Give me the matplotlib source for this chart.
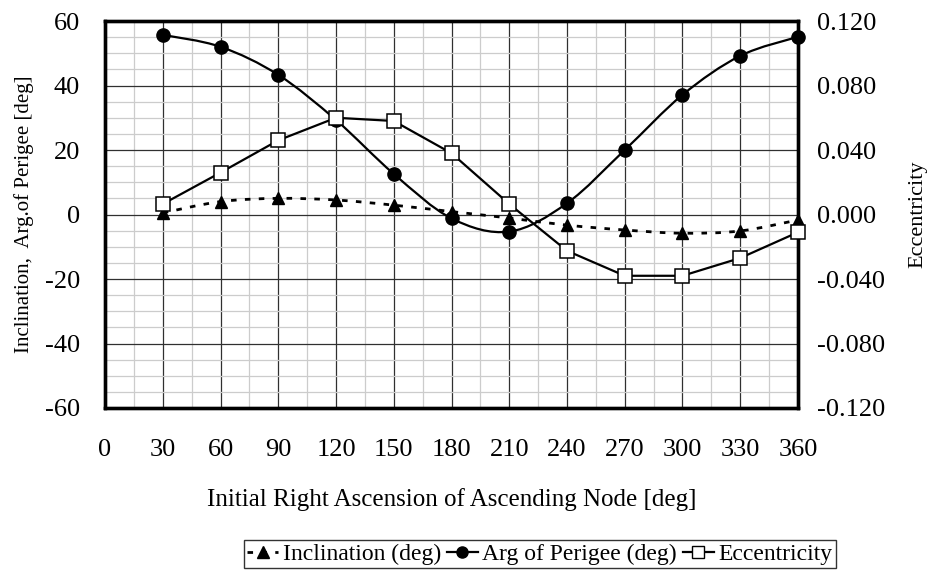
import numpy as np
import matplotlib.pyplot as plt
from matplotlib.path import Path
from matplotlib.patches import PathPatch
from matplotlib.lines import Line2D
from matplotlib.ticker import MultipleLocator, FormatStrFormatter

plt.rcParams['font.family'] = ['Liberation Serif', 'DejaVu Serif']
plt.rcParams['axes.unicode_minus'] = False

raan = [30, 60, 90, 120, 150, 180, 210, 240, 270, 300, 330, 360]
inclination = [0.5, 4.0, 5.0, 4.5, 2.9, 0.9, -1.1, -3.3, -4.8, -5.8, -5.1, -1.7]
arg_perigee = [55.7, 52.0, 43.3, 29.3, 12.6, -1.2, -5.3, 3.5, 20.0, 37.1, 49.2, 55.1]
eccentricity = [0.0065, 0.026, 0.046, 0.060, 0.058, 0.038, 0.0065, -0.0225,
                -0.038, -0.038, -0.027, -0.011]


def smooth_path(x, y):
    # bezier through every point, like a spreadsheet "smoothed line"
    p = np.column_stack([x, y]).astype(float)
    verts = [p[0]]
    codes = [Path.MOVETO]
    n = len(p)
    for i in range(n - 1):
        p0 = p[i - 1] if i > 0 else p[i]
        p3 = p[i + 2] if i + 2 < n else p[i + 1]
        c1 = p[i] + (p[i + 1] - p0) / 6
        c2 = p[i + 1] - (p3 - p[i]) / 6
        verts += [c1, c2, p[i + 1]]
        codes += [Path.CURVE4] * 3
    return Path(verts, codes)


fig = plt.figure(figsize=(9.32, 5.74), dpi=100)
ax = fig.add_axes([0.1127, 0.2892, 0.7435, 0.6742])
ax2 = ax.twinx()

ax.set_xlim(0, 360)
ax.set_ylim(-60, 60)
ax2.set_ylim(-0.12, 0.12)

ax.xaxis.set_major_locator(MultipleLocator(30))
ax.xaxis.set_minor_locator(MultipleLocator(15))
ax.yaxis.set_major_locator(MultipleLocator(20))
ax.yaxis.set_minor_locator(MultipleLocator(5))
ax2.yaxis.set_major_locator(MultipleLocator(0.04))
ax2.yaxis.set_major_formatter(FormatStrFormatter('%.3f'))

ax.grid(which='minor', color='#cccccc', lw=0.9)
ax.grid(which='major', color='#303030', lw=0.9)
ax.set_axisbelow(True)

for a in (ax, ax2):
    for s in a.spines.values():
        s.set_linewidth(2.4)
    a.tick_params(which='both', length=0, labelsize=19)
ax.tick_params(axis='x', pad=22)
ax.tick_params(axis='y', pad=18)
ax2.tick_params(axis='y', pad=14)

# inclination: dashed smoothed line with triangles
ax.add_patch(PathPatch(smooth_path(raan, inclination), fill=False, lw=2,
                       ls=(0, (2, 3)), color='black', zorder=3))
ax.plot(raan, inclination, ls='none', marker='^', ms=9, color='black',
        zorder=4, clip_on=False)

# argument of perigee: smoothed solid line with filled circles
ax.add_patch(PathPatch(smooth_path(raan, arg_perigee), fill=False, lw=1.6,
                       color='black', zorder=3))
ax.plot(raan, arg_perigee, ls='none', marker='o', ms=9.5, color='black',
        zorder=4, clip_on=False)

# eccentricity on the right axis
ax2.plot(raan, eccentricity, '-', lw=1.6, color='black', marker='s', ms=9.5,
         mfc='white', mec='black', mew=1.1, zorder=4, clip_on=False)

ax.set_ylabel('Inclination,  Arg.of Perigee [deg]', fontsize=15, labelpad=8)
ax2.set_ylabel('Eccentricity', fontsize=16, labelpad=16)
ax.set_xlabel('Initial Right Ascension of Ascending Node [deg]', fontsize=18,
              labelpad=20)

handles = [
    Line2D([], [], color='black', lw=2, ls=(0, (2, 3)), marker='^', ms=8),
    Line2D([], [], color='black', lw=1.6, marker='o', ms=8),
    Line2D([], [], color='black', lw=1.6, marker='s', ms=8, mfc='white'),
]
labels = ['Inclination (deg)', 'Arg of Perigee (deg)', 'Eccentricity']
leg = fig.legend(handles, labels, loc='center', ncol=3,
                 bbox_to_anchor=(540 / 932, 1 - 554 / 574), fontsize=17,
                 frameon=True, fancybox=False, edgecolor='black',
                 handlelength=1.3, handletextpad=0.2, columnspacing=0.25,
                 borderpad=0.15, borderaxespad=0)
leg.get_frame().set_linewidth(1.0)

fig.savefig('out.png', dpi=100)
